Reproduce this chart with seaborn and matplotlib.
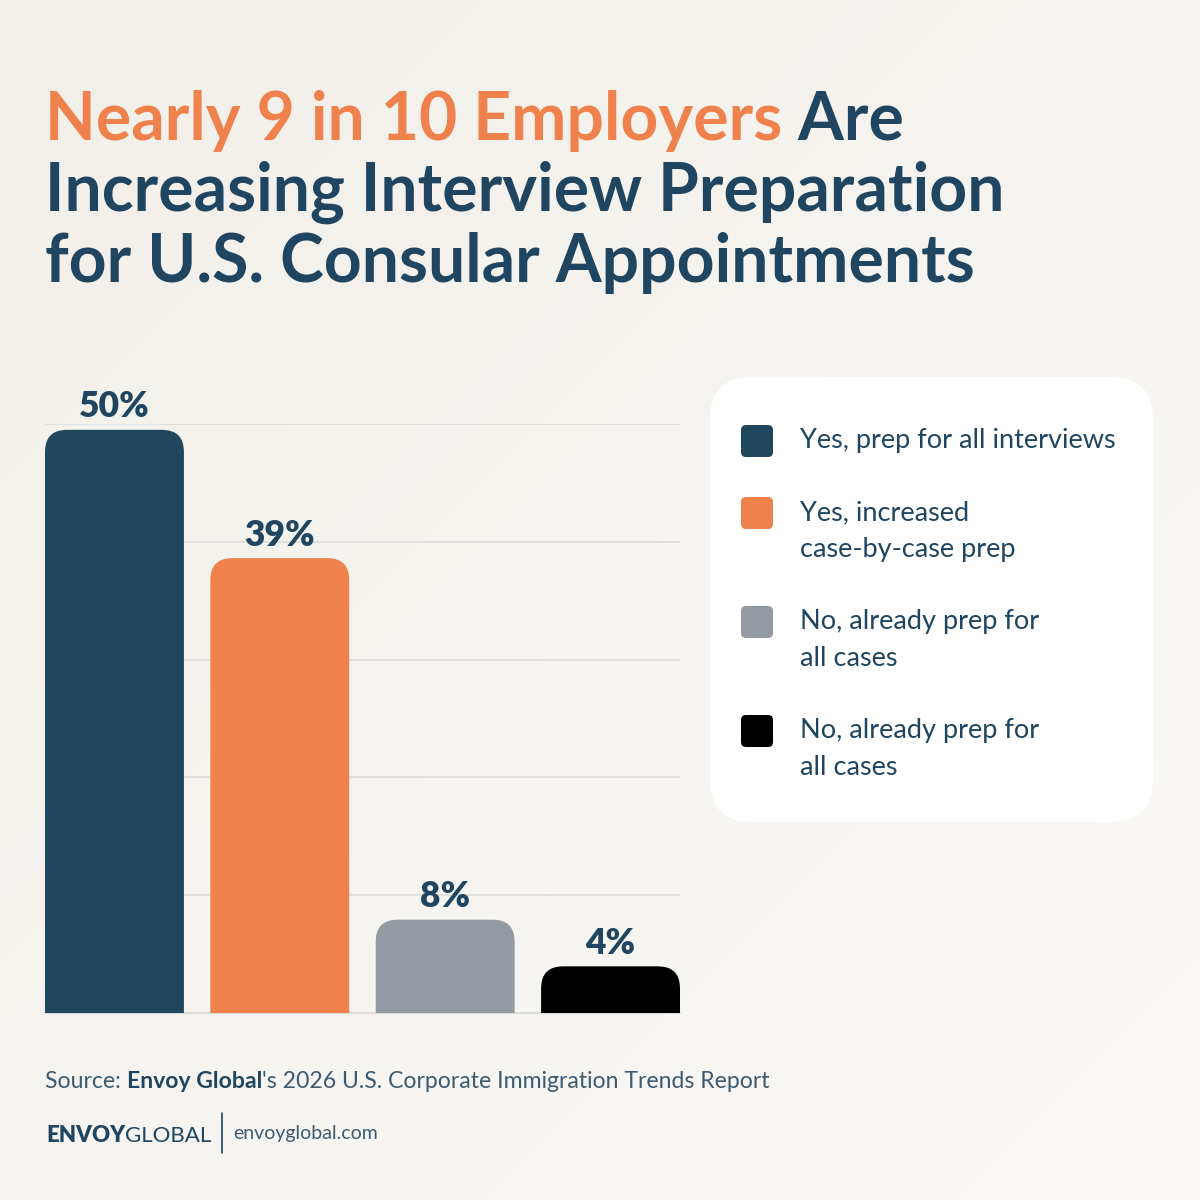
import numpy as np
import pandas as pd
import seaborn as sns
import matplotlib.pyplot as plt
from matplotlib.patches import FancyBboxPatch
from matplotlib.lines import Line2D

# survey answers (share of employers, %)
answers = ["prep_all", "case_by_case", "already_all", "already_all_b"]
shares = [50, 39, 8, 4]
legend_labels = [
    "Yes, prep for all interviews",
    "Yes, increased\ncase-by-case prep",
    "No, already prep for\nall cases",
    "No, already prep for\nall cases",
]
bar_colors = ["#21475F", "#EF814D", "#939AA1", "#000000"]

title_orange = "Nearly 9 in 10 Employers"
title_rest = [" Are", "Increasing Interview Preparation", "for U.S. Consular Appointments"]
source_parts = ["Source: ", "Envoy Global", "'s 2026 U.S. Corporate Immigration Trends Report"]

NAVY = "#1F4560"
SOFT = "#3D5A70"
ORANGE = "#EF814D"
FONT = "Lato"

df = pd.DataFrame({"answer": answers, "share": shares})

sns.set_theme(style="white")
plt.rcParams["font.family"] = [FONT, "DejaVu Sans"]

W = H = 1200
fig = plt.figure(figsize=(12, 12), dpi=100)

# soft diagonal background gradient
bg = fig.add_axes([0, 0, 1, 1], zorder=-10)
gx, gy = np.meshgrid(np.linspace(0, 1, 300), np.linspace(0, 1, 300))
t = (gx + gy) / 2
c0 = np.array([0xF2, 0xEF, 0xE9]) / 255
c1 = np.array([0xFA, 0xF9, 0xF7]) / 255
img = c0[None, None, :] * (1 - t[..., None]) + c1[None, None, :] * t[..., None]
bg.imshow(img, extent=[0, 1, 0, 1], origin="upper", aspect="auto")
bg.axis("off")

# bar chart axes (pixel layout)
left, right, top, bottom = 45, 680, 424, 1013
ax = fig.add_axes([left / W, 1 - bottom / H, (right - left) / W, (bottom - top) / H])
ax.patch.set_alpha(0)

bw = 0.84
sns.barplot(data=df, x="answer", y="share", hue="answer", palette=bar_colors,
            order=answers, hue_order=answers, width=bw, dodge=False,
            saturation=1, legend=False, ax=ax)

ymax = 50.5
ax.set_xlim(-bw / 2, len(answers) - 1 + bw / 2)
ax.set_ylim(0, ymax)
ax.set_yticks(np.linspace(0, ymax, 6))
ax.yaxis.grid(True, color="#DEDCD8", linewidth=1.2)
ax.set_axisbelow(True)
ax.axhline(0, color="#DEDCD8", linewidth=1.5, clip_on=False, zorder=0.5)
for s in ax.spines.values():
    s.set_visible(False)
ax.set_xlabel("")
ax.set_ylabel("")
ax.set_xticklabels([])
ax.set_yticklabels([])
ax.tick_params(length=0)

# replace bars by ones with rounded tops
sx = (right - left) / (ax.get_xlim()[1] - ax.get_xlim()[0])
sy = (bottom - top) / ymax
r_px = 22
rx = r_px / sx
ry = r_px / sy
for p in list(ax.patches):
    x0, w, h = p.get_x(), p.get_width(), p.get_height()
    fc = p.get_facecolor()
    p.remove()
    fb = FancyBboxPatch((x0, -2 * ry), w, h + 2 * ry,
                        boxstyle=f"round,pad=0,rounding_size={rx}",
                        mutation_aspect=sx / sy, facecolor=fc,
                        edgecolor="none", zorder=2)
    ax.add_patch(fb)
    ax.annotate(f"{h:.0f}%", (x0 + w / 2, h), xytext=(0, 9),
                textcoords="offset points", ha="center", va="baseline",
                fontsize=25.5, fontweight="heavy", color=NAVY)

# title
renderer = fig.canvas.get_renderer()
tsize = 47.5
t1 = fig.text(45 / W, 1 - 140 / H, title_orange, color=ORANGE, fontsize=tsize,
              fontweight="bold", va="baseline")
bb = t1.get_window_extent(renderer)
fig.text(bb.x1 / W, 1 - 140 / H, title_rest[0], color=NAVY, fontsize=tsize,
         fontweight="bold", va="baseline")
fig.text(45 / W, 1 - 211 / H, title_rest[1], color=NAVY, fontsize=tsize,
         fontweight="bold", va="baseline")
fig.text(45 / W, 1 - 282 / H, title_rest[2], color=NAVY, fontsize=tsize,
         fontweight="bold", va="baseline")

# legend card
box = FancyBboxPatch((710 / W, 1 - 822 / H), 443 / W, 445 / H,
                     boxstyle=f"round,pad=0,rounding_size={42 / W}",
                     transform=fig.transFigure, facecolor="white",
                     edgecolor="none", zorder=1)
fig.patches.append(box)
yc = 441
for lab, col in zip(legend_labels, bar_colors):
    sq = FancyBboxPatch((741 / W, 1 - (yc + 16) / H), 32 / W, 32 / H,
                        boxstyle=f"round,pad=0,rounding_size={5 / W}",
                        transform=fig.transFigure, facecolor=col,
                        edgecolor="none", zorder=2)
    fig.patches.append(sq)
    for i, line in enumerate(lab.split("\n")):
        fig.text(800 / W, 1 - (yc + 7 + 37 * i) / H, line, color=NAVY,
                 fontsize=19.5, va="baseline", ha="left", zorder=3)
    yc += 72 + 37 * lab.count("\n")

# source line
x = 45
weights = ["normal", "bold", "normal"]
colors = [SOFT, NAVY, SOFT]
for part, wt, c in zip(source_parts, weights, colors):
    tt = fig.text(x / W, 1 - 1088 / H, part, color=c, fontsize=16.6,
                  fontweight=wt, va="baseline")
    x = tt.get_window_extent(renderer).x1

# logo
l1 = fig.text(46 / W, 1 - 1142 / H, "ENVOY", color=NAVY, fontsize=16,
              fontweight="heavy", va="baseline")
x = l1.get_window_extent(renderer).x1
fig.text(x / W, 1 - 1142 / H, "GLOBAL", color=NAVY, fontsize=16,
         fontweight="normal", va="baseline")
fig.add_artist(Line2D([222 / W, 222 / W], [1 - 1113 / H, 1 - 1153 / H],
                      color=NAVY, linewidth=1.2, transform=fig.transFigure))
fig.text(233 / W, 1 - 1139 / H, "envoyglobal.com", color=SOFT, fontsize=14,
         fontweight="normal", va="baseline")

fig.savefig("out.png", dpi=100)
